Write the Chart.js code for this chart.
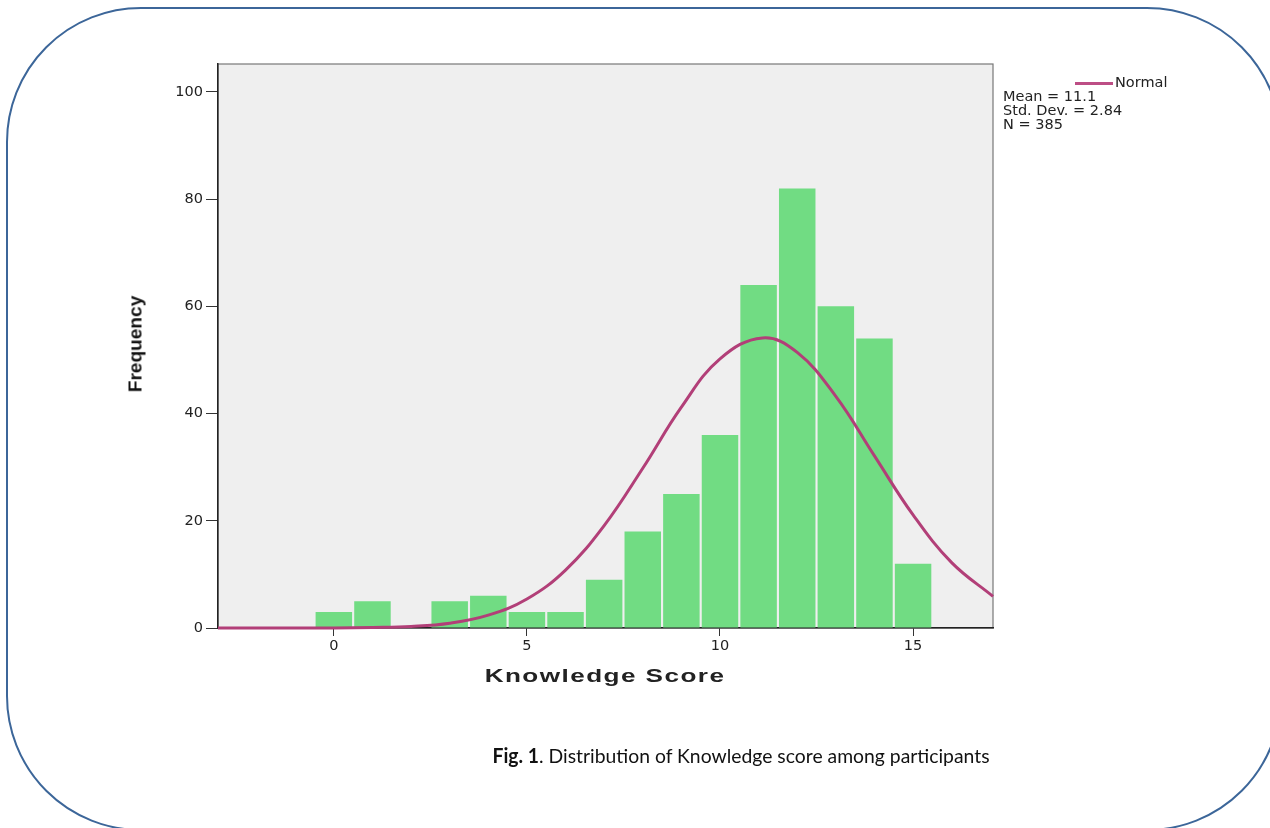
<!DOCTYPE html>
<html>
<head>
<meta charset="utf-8">
<script src="https://cdn.jsdelivr.net/npm/chart.js@4/dist/chart.umd.min.js"></script>
<style>
  html, body { margin: 0; padding: 0; background: #fff; }
  body { width: 1270px; height: 828px; overflow: hidden; position: relative; }
  .frame {
    position: absolute; left: 6px; top: 7px; width: 1276px; height: 824px;
    box-sizing: border-box; border: 2px solid #3c6699; border-radius: 135px;
  }
  #chart { position: absolute; left: 0; top: 0; }
  .ytitle {
    position: absolute; left: 136px; top: 344px; white-space: nowrap;
    font: bold 18px "Liberation Sans Narrow", "Liberation Sans", sans-serif; color: #111;
    transform: translate(-50%, -50%) rotate(-90deg) scaleX(1.06);
  }
  .xtitle {
    position: absolute; left: 605px; top: 676px; white-space: nowrap;
    font: bold 18px "Liberation Sans", Arial, sans-serif; color: #222; letter-spacing: 1px;
    transform: translate(-50%, -50%) scaleX(1.45);
  }
  .legend {
    position: absolute; left: 1003px; top: 75px;
    font: 14.5px "DejaVu Sans", sans-serif; line-height: 14px; color: #222; white-space: nowrap;
  }
  .legend .key { position: relative; padding-left: 112px; }
  .legend .key::before {
    content: ""; position: absolute; left: 72px; top: 7px; width: 38px; height: 3px; background: #bd4e85;
  }
  .caption {
    position: absolute; left: 741px; top: 755px; transform: translate(-50%, -50%) scaleX(0.967);
    font: 20px Lato, "Open Sans", sans-serif; color: #111; white-space: nowrap;
  }
</style>
</head>
<body>
<div class="frame"></div>
<canvas id="chart" width="1270" height="828"></canvas>
<div class="ytitle">Frequency</div>
<div class="xtitle">Knowledge Score</div>
<div class="legend">
  <div class="key">Normal</div>
  <div>Mean = 11.1</div>
  <div>Std. Dev. = 2.84</div>
  <div>N = 385</div>
</div>
<div class="caption"><b>Fig. 1</b>. Distribution of Knowledge score among participants</div>

<script>
"use strict";

// histogram
const scores = [0, 1, 2, 3, 4, 5, 6, 7, 8, 9, 10, 11, 12, 13, 14, 15];
const frequency = [3, 5, 0, 5, 6, 3, 3, 9, 18, 25, 36, 64, 82, 60, 54, 12];

// normal curve
const curveX = [-3, -2, -1, 0, 1, 2, 3, 4, 5, 6, 7, 8, 9, 10, 11.1, 12, 13, 14, 15, 16, 17.07];
const curveY = [0, 0, 0, 0, 0.1, 0.3, 0.9, 2.4, 5.4, 10.8, 19.1, 29.8, 41.2, 50.2, 54.1, 51.4, 43.2, 32.1, 21.1, 12.2, 5.9];

const xTicks = [0, 5, 10, 15];
const yTicks = [0, 20, 40, 60, 80, 100];

const tickFont = {family: "DejaVu Sans", size: 14.5};

const plotFrame = {
  id: "plotFrame",
  beforeDraw(chart) {
    const {ctx, chartArea: a} = chart;
    ctx.save();
    ctx.fillStyle = "#efefef";
    ctx.fillRect(a.left, a.top, a.right - a.left, a.bottom - a.top);
    ctx.strokeStyle = "#777";
    ctx.lineWidth = 1.2;
    ctx.strokeRect(a.left, a.top, a.right - a.left, a.bottom - a.top);
    ctx.restore();
  }
};

new Chart(document.getElementById("chart"), {
  type: "bar",
  data: {
    datasets: [
      {
        type: "line",
        label: "Normal",
        data: curveX.map((x, i) => ({x: x, y: curveY[i]})),
        borderColor: "#b23f78",
        borderWidth: 3,
        pointRadius: 0,
        tension: 0.4,
        fill: false,
        clip: 3,
        order: 0
      },
      {
        label: "Frequency",
        data: scores.map((s, i) => ({x: s, y: frequency[i]})),
        backgroundColor: "#71dc83",
        borderWidth: 0,
        categoryPercentage: 1,
        barPercentage: 0.945,
        order: 1
      }
    ]
  },
  plugins: [plotFrame],
  options: {
    responsive: false,
    animation: false,
    layout: {padding: {left: 118, right: 277, top: 64, bottom: 170}},
    plugins: {legend: {display: false}, tooltip: {enabled: false}},
    scales: {
      x: {
        type: "linear",
        min: -3,
        max: 17.07,
        offset: false,
        afterBuildTicks: (scale) => { scale.ticks = xTicks.map(v => ({value: v})); },
        afterFit: (scale) => { scale.height = 30; },
        grid: {drawOnChartArea: false, drawTicks: true, tickLength: 8, color: "#333", offset: false},
        border: {display: true, color: "#222", width: 1.5},
        ticks: {font: tickFont, color: "#222", padding: 2, maxRotation: 0}
      },
      y: {
        min: 0,
        max: 105.2,
        afterBuildTicks: (scale) => { scale.ticks = yTicks.map(v => ({value: v})); },
        afterFit: (scale) => { scale.width = 100; },
        grid: {drawOnChartArea: false, drawTicks: true, tickLength: 12, color: "#333"},
        border: {display: true, color: "#222", width: 1.5},
        ticks: {font: tickFont, color: "#222", padding: 3}
      }
    }
  }
});
</script>
</body>
</html>
